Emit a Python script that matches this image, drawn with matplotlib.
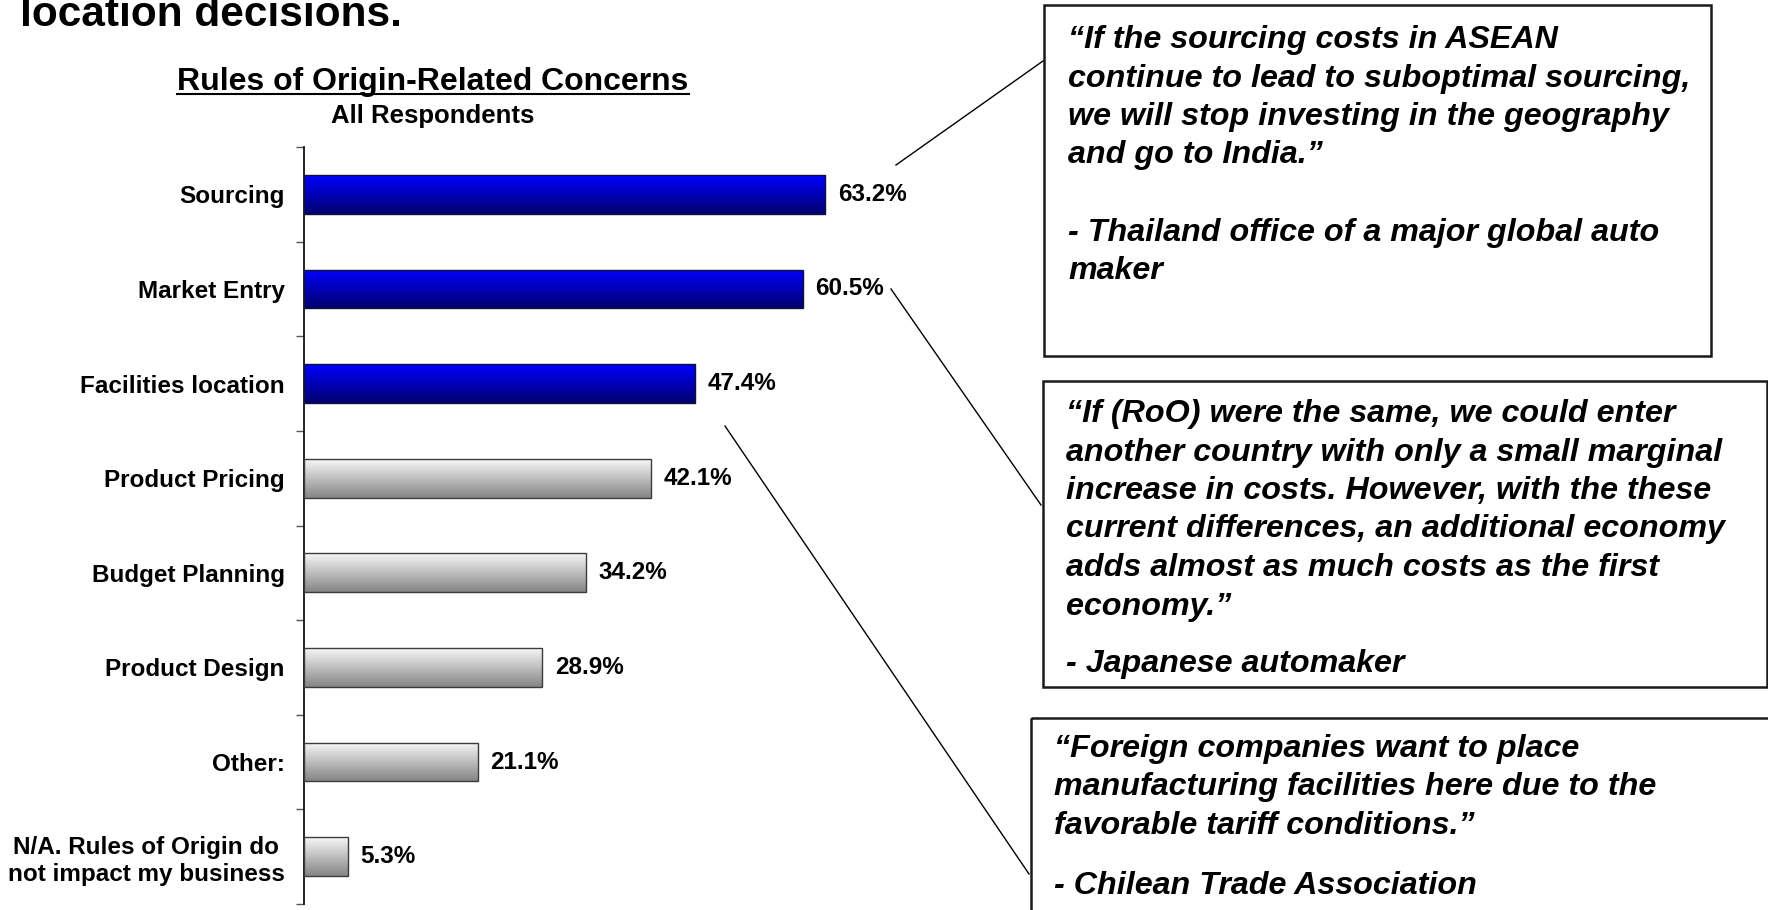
import numpy as np
import matplotlib
matplotlib.use("Agg")
import matplotlib.pyplot as plt
from matplotlib.colors import LinearSegmentedColormap
from matplotlib.patches import Rectangle
from matplotlib.lines import Line2D

plt.rcParams['font.family'] = ['Liberation Sans', 'DejaVu Sans']
plt.rcParams['font.weight'] = 'bold'

# survey results
categories = ['Sourcing', 'Market Entry', 'Facilities location', 'Product Pricing',
              'Budget Planning', 'Product Design', 'Other:',
              'N/A. Rules of Origin do\nnot impact my business']
shares = [63.2, 60.5, 47.4, 42.1, 34.2, 28.9, 21.1, 5.3]
n_highlight = 3  # top concerns shown in blue

quote_sourcing = ['“If the sourcing costs in ASEAN',
                  'continue to lead to suboptimal sourcing,',
                  'we will stop investing in the geography',
                  'and go to India.”',
                  '',
                  '- Thailand office of a major global auto',
                  'maker']
quote_entry = ['“If (RoO) were the same, we could enter',
               'another country with only a small marginal',
               'increase in costs. However, with the these',
               'current differences, an additional economy',
               'adds almost as much costs as the first',
               'economy.”']
author_entry = '- Japanese automaker'
quote_facilities = ['“Foreign companies want to place',
                    'manufacturing facilities here due to the',
                    'favorable tariff conditions.”']
author_facilities = '- Chilean Trade Association'

W, H = 1768, 910
fig = plt.figure(figsize=(W / 100, H / 100), dpi=100)

px_per_pct = 8.25
x_max = 70
ax = fig.add_axes([304 / W, 6 / H, x_max * px_per_pct / W, 757 / H])

y = np.arange(len(categories))
bars = ax.barh(y, shares, height=0.41, facecolor='none', zorder=3, linewidth=1.0)

blue = LinearSegmentedColormap.from_list('blue_grad', ['#0000ff', '#00006e'])
grey = LinearSegmentedColormap.from_list('grey_grad', ['#f7f7f7', '#858585'])
grad = np.linspace(0, 1, 128).reshape(-1, 1)
for i, bar in enumerate(bars):
    x0, y0 = bar.get_xy()
    w, h = bar.get_width(), bar.get_height()
    cmap = blue if i < n_highlight else grey
    bar.set_edgecolor('#10103a' if i < n_highlight else '#3c3c3c')
    im = ax.imshow(grad, cmap=cmap, extent=(x0, x0 + w, y0 + h, y0), origin='upper',
                   aspect='auto', interpolation='bilinear', zorder=2)
    im.set_clip_path(bar)
    ax.annotate(f'{shares[i]:.1f}%', (shares[i], i), xytext=(9, 0),
                textcoords='offset points', va='center', ha='left',
                fontsize=17.5, fontweight='bold')

ax.set_xlim(0, x_max)
ax.set_ylim(len(categories) - 0.5, -0.5)

# tick marks between categories, labels centred on bars
ax.set_yticks(np.arange(len(categories) + 1) - 0.5)
ax.set_yticklabels([])
ax.tick_params(axis='y', which='major', direction='out', length=6, width=1, color='#555555')
ax.set_yticks(y, labels=categories, minor=True)
ax.tick_params(axis='y', which='minor', length=0, pad=14, labelsize=17.5)
for lbl in ax.get_yticklabels(minor=True):
    lbl.set_multialignment('center')
    lbl.set_fontweight('bold')

ax.xaxis.set_visible(False)
for side in ['top', 'right', 'bottom']:
    ax.spines[side].set_visible(False)
ax.spines['left'].set_linewidth(1.2)
ax.patch.set_alpha(0)

# headings
fig.text(20 / W, 1 - 26 / H, 'location decisions.', ha='left', va='baseline',
         fontsize=30.5, fontweight='bold')
title = fig.text(433 / W, 1 - 90 / H, 'Rules of Origin-Related Concerns', ha='center',
                 va='baseline', fontsize=23, fontweight='bold')
fig.text(433 / W, 1 - 123 / H, 'All Respondents', ha='center', va='baseline',
         fontsize=18.5, fontweight='bold')

# overlay in pixel coordinates for quote boxes and callout lines
ov = fig.add_axes([0, 0, 1, 1])
ov.set_xlim(0, W)
ov.set_ylim(H, 0)
ov.axis('off')
ov.patch.set_alpha(0)

box_kw = dict(fill=False, lw=1.8, ec='#1a1a1a')
ov.add_patch(Rectangle((1044, 5), 667, 351, **box_kw))
ov.add_patch(Rectangle((1043, 381), 724, 306, **box_kw))
ov.add_patch(Rectangle((1031, 718), 800, 300, **box_kw))

line_kw = dict(color='black', lw=1.0)
ov.plot([896, 1043], [165, 61], **line_kw)
ov.plot([891, 1041], [289, 505], **line_kw)
ov.plot([725, 1029], [426, 874], **line_kw)

quote_kw = dict(fontsize=23.2, fontweight='bold', fontstyle='italic', ha='left', va='center')
pitch = 38.5
for k, line in enumerate(quote_sourcing):
    ov.text(1068, 40 + k * pitch, line, **quote_kw)
for k, line in enumerate(quote_entry):
    ov.text(1066, 414 + k * pitch, line, **quote_kw)
ov.text(1066, 664, author_entry, **quote_kw)
for k, line in enumerate(quote_facilities):
    ov.text(1054, 749 + k * pitch, line, **quote_kw)
ov.text(1054, 886, author_facilities, **quote_kw)

# underline the chart title
fig.canvas.draw()
bb = title.get_window_extent()
fig.add_artist(Line2D([bb.x0 / W, bb.x1 / W], [1 - 94 / H, 1 - 94 / H],
                      transform=fig.transFigure, color='black', lw=1.5))

fig.savefig('out.png', dpi=100)
